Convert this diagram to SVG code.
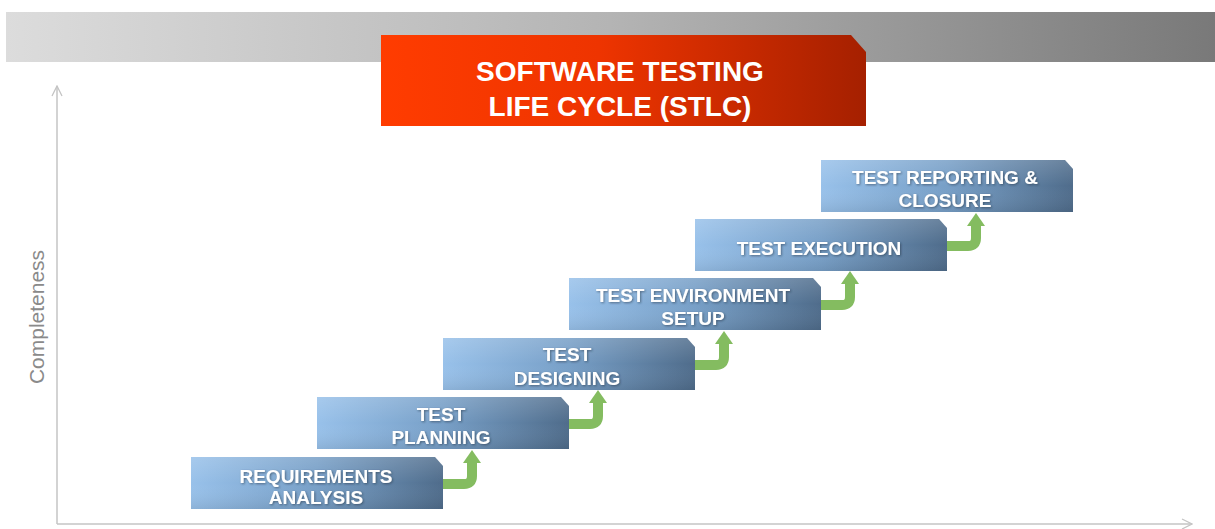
<svg xmlns="http://www.w3.org/2000/svg" width="1215" height="529" viewBox="0 0 1215 529">
<defs>
<linearGradient id="band" x1="0" y1="0" x2="1" y2="0">
<stop offset="0" stop-color="#dcdcdc"/>
<stop offset="0.5" stop-color="#b4b4b4"/>
<stop offset="1" stop-color="#797979"/>
</linearGradient>
<linearGradient id="red" x1="0" y1="0" x2="1" y2="0">
<stop offset="0" stop-color="#ff3c00"/>
<stop offset="0.45" stop-color="#ee3400"/>
<stop offset="1" stop-color="#a52000"/>
</linearGradient>
<linearGradient id="blue" x1="0" y1="0" x2="1" y2="0">
<stop offset="0" stop-color="#98c1ea"/>
<stop offset="0.5" stop-color="#779fc7"/>
<stop offset="1" stop-color="#4f6c8b"/>
</linearGradient>
<linearGradient id="sheen" x1="0" y1="0" x2="0" y2="1">
<stop offset="0" stop-color="#ffffff" stop-opacity="0.15"/>
<stop offset="0.5" stop-color="#ffffff" stop-opacity="0"/>
<stop offset="1" stop-color="#000000" stop-opacity="0.08"/>
</linearGradient>
<filter id="ts" x="-10%" y="-30%" width="120%" height="160%">
<feDropShadow dx="1" dy="1" stdDeviation="0.8" flood-color="#1e2e40" flood-opacity="0.55"/>
</filter>
<marker id="open" viewBox="0 0 12 12" refX="11" refY="6" markerWidth="12" markerHeight="12" markerUnits="userSpaceOnUse" orient="auto">
<path d="M1,1 L11,6 L1,11" fill="none" stroke="#c4c4c4" stroke-width="1.3"/>
</marker>
<path id="stepShape" d="M0,0 H244 L252,9 V52 H0 Z"/>
</defs>
<style>
.step{fill:url(#blue);}
.stepSheen{fill:url(#sheen);}
.stxt{font-family:"Liberation Sans",Arial,sans-serif;font-weight:bold;font-size:19px;fill:#ffffff;text-anchor:middle;filter:url(#ts);}
.ttl{font-family:"Liberation Sans",Arial,sans-serif;font-weight:bold;font-size:28px;fill:#ffffff;text-anchor:middle;}
.arrow{fill:none;stroke:#84bc60;stroke-width:10;stroke-linejoin:round;}
.head{fill:#84bc60;}
.axis{fill:none;stroke:#c4c4c4;stroke-width:1.5;}
</style>
<rect width="1215" height="529" fill="#ffffff"/>
<g id="header">
<rect x="6" y="12" width="1209" height="50" fill="url(#band)"/>
<path d="M381,35 H851 L866,52 V126 H381 Z" fill="url(#red)"/>
<text class="ttl" x="620" y="81">SOFTWARE TESTING</text>
<text class="ttl" x="620" y="116">LIFE CYCLE (STLC)</text>
</g>
<g id="axes">
<path class="axis" d="M57,524 V86" marker-end="url(#open)"/>
<path class="axis" d="M57,524 H1192" marker-end="url(#open)"/>
<text x="44" y="317" transform="rotate(-90 44 317)" font-family="'Liberation Sans',Arial,sans-serif" font-size="21" fill="#8a8a8a" text-anchor="middle">Completeness</text>
</g>
<g id="connectors">
<path class="arrow" d="M442,484 H464 Q472,484 472,476 V462"/>
<path class="head" d="M463,463 L472,450 L481,463 Z"/>
<path class="arrow" d="M568,424 H590 Q598,424 598,416 V402"/>
<path class="head" d="M589,403 L598,390 L607,403 Z"/>
<path class="arrow" d="M694,365 H716 Q724,365 724,357 V343"/>
<path class="head" d="M715,344 L724,331 L733,344 Z"/>
<path class="arrow" d="M820,305 H842 Q850,305 850,297 V283"/>
<path class="head" d="M841,284 L850,271 L859,284 Z"/>
<path class="arrow" d="M946,246 H968 Q976,246 976,238 V225"/>
<path class="head" d="M967,226 L976,213 L985,226 Z"/>
</g>
<g id="step1" transform="translate(191,457)">
<use href="#stepShape" class="step"/><use href="#stepShape" class="stepSheen"/>
<text class="stxt" x="125" y="26">REQUIREMENTS</text>
<text class="stxt" x="125" y="47">ANALYSIS</text>
</g>
<g id="step2" transform="translate(317,397)">
<use href="#stepShape" class="step"/><use href="#stepShape" class="stepSheen"/>
<text class="stxt" x="124" y="24">TEST</text>
<text class="stxt" x="124" y="47">PLANNING</text>
</g>
<g id="step3" transform="translate(443,338)">
<use href="#stepShape" class="step"/><use href="#stepShape" class="stepSheen"/>
<text class="stxt" x="124" y="23">TEST</text>
<text class="stxt" x="124" y="47">DESIGNING</text>
</g>
<g id="step4" transform="translate(569,278)">
<use href="#stepShape" class="step"/><use href="#stepShape" class="stepSheen"/>
<text class="stxt" x="124" y="24">TEST ENVIRONMENT</text>
<text class="stxt" x="124" y="47">SETUP</text>
</g>
<g id="step5" transform="translate(695,219)">
<use href="#stepShape" class="step"/><use href="#stepShape" class="stepSheen"/>
<text class="stxt" x="124" y="36">TEST EXECUTION</text>
</g>
<g id="step6" transform="translate(821,160)">
<use href="#stepShape" class="step"/><use href="#stepShape" class="stepSheen"/>
<text class="stxt" x="124" y="24">TEST REPORTING &amp;</text>
<text class="stxt" x="124" y="47">CLOSURE</text>
</g>
</svg>
